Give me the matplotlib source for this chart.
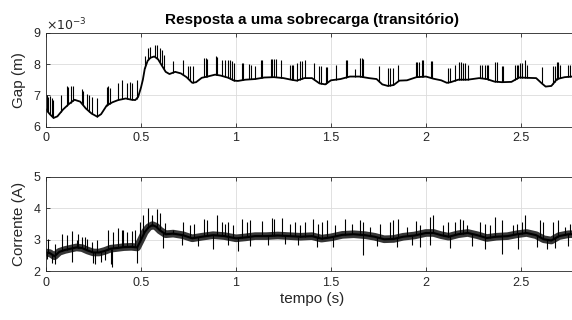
import matplotlib
matplotlib.use('Agg')
import matplotlib.pyplot as plt
import numpy as np

plt.rcParams['font.family'] = ['Liberation Sans', 'DejaVu Sans']

# gap baseline (x 1e-3 m)
gap_t = [0, 0.02, 0.04, 0.06, 0.09, 0.12, 0.15, 0.18, 0.21, 0.24, 0.27, 0.29, 0.32, 0.35, 0.38,
         0.42, 0.45, 0.47, 0.485, 0.5, 0.51, 0.52, 0.535, 0.55, 0.57, 0.59, 0.61, 0.63, 0.65, 0.68,
         0.71, 0.74, 0.77, 0.79, 0.82, 0.85, 0.89, 0.92, 0.96, 0.99, 1.01, 1.05, 1.1, 1.15, 1.2,
         1.25, 1.29, 1.32, 1.36, 1.4, 1.44, 1.47, 1.5, 1.55, 1.6, 1.65, 1.7, 1.74, 1.77, 1.8,
         1.83, 1.86, 1.9, 1.95, 2.0, 2.04, 2.08, 2.11, 2.13, 2.17, 2.22, 2.28, 2.32, 2.36, 2.4,
         2.45, 2.49, 2.53, 2.58, 2.61, 2.63, 2.66, 2.69, 2.73, 2.77, 2.8]
gap_v = [6.55, 6.4, 6.28, 6.33, 6.55, 6.72, 6.86, 6.8, 6.58, 6.42, 6.32, 6.4, 6.68, 6.78, 6.85,
         6.9, 6.86, 6.85, 6.95, 7.25, 7.5, 7.85, 8.1, 8.2, 8.24, 8.15, 7.95, 7.75, 7.68, 7.75,
         7.7, 7.58, 7.4, 7.42, 7.56, 7.6, 7.66, 7.63, 7.56, 7.47, 7.46, 7.5, 7.52, 7.57, 7.58,
         7.55, 7.5, 7.47, 7.55, 7.55, 7.38, 7.35, 7.48, 7.52, 7.6, 7.6, 7.55, 7.52, 7.35, 7.3,
         7.33, 7.47, 7.48, 7.58, 7.6, 7.53, 7.48, 7.4, 7.42, 7.5, 7.5, 7.55, 7.52, 7.44, 7.42,
         7.43, 7.57, 7.56, 7.55, 7.38, 7.28, 7.3, 7.52, 7.58, 7.6, 7.6]

# gap spikes: time and peak (x 1e-3 m)
gap_spk_t = [0.004, 0.012, 0.021, 0.03, 0.039, 0.077, 0.109, 0.118, 0.13, 0.14, 0.188, 0.196,
             0.214, 0.228, 0.24, 0.27, 0.319, 0.328, 0.337, 0.381, 0.398, 0.428, 0.44, 0.451,
             0.477, 0.521, 0.538, 0.548, 0.574, 0.586, 0.598, 0.609, 0.621, 0.67,
             0.723, 0.749, 0.758, 0.775, 0.833, 0.84, 0.847, 0.893, 0.902, 0.928, 0.942, 0.96,
             0.968, 0.981, 0.991, 1.03, 1.039, 1.068, 1.079, 1.1, 1.132, 1.139, 1.184, 1.191,
             1.2, 1.209, 1.237, 1.284, 1.293, 1.302, 1.319, 1.337, 1.346, 1.363,
             1.411, 1.437, 1.446, 1.474, 1.481, 1.526, 1.577, 1.584, 1.626, 1.653, 1.661, 1.67,
             1.754, 1.802, 1.811, 1.825, 1.854, 1.947, 1.954, 1.961, 1.977, 1.982, 2.025, 2.033,
             2.117, 2.126, 2.153, 2.175, 2.183, 2.196, 2.205, 2.223, 2.284, 2.293, 2.311, 2.319,
             2.328, 2.363, 2.372, 2.398, 2.407, 2.468, 2.477, 2.486, 2.495, 2.504, 2.521, 2.533,
             2.609, 2.67, 2.679, 2.688, 2.696, 2.705, 2.749, 2.758]
gap_spk_v = [7.0, 6.95, 6.98, 6.9, 6.85, 7.0, 7.3, 7.28, 7.3, 7.3, 7.2, 7.15,
             7.05, 7.0, 6.95, 6.9, 7.28, 7.3, 7.25, 7.4, 7.5, 7.4, 7.42, 7.38,
             7.5, 8.25, 8.5, 8.55, 8.6, 8.62, 8.5, 8.45, 8.3, 8.1,
             8.14, 7.95, 7.95, 7.93, 8.2, 8.2, 8.15, 8.25, 8.22, 8.14, 8.14, 8.14,
             8.12, 8.09, 8.03, 8.03, 8.03, 8.0, 7.98, 7.95, 8.14, 8.12, 8.17, 8.17,
             8.15, 8.15, 8.14, 7.98, 7.98, 7.98, 8.03, 8.09, 8.09, 8.14,
             8.03, 7.93, 7.93, 7.9, 7.9, 7.96, 8.14, 8.14, 7.85, 8.19, 8.2, 8.17,
             7.93, 7.87, 7.87, 7.87, 7.96, 8.06, 8.06, 8.06, 8.14, 8.14, 8.09, 8.09,
             7.87, 7.87, 7.98, 8.06, 8.06, 8.03, 8.03, 7.98, 7.96, 7.96, 7.96, 7.96,
             7.96, 8.06, 8.06, 7.93, 7.93, 7.98, 7.98, 7.98, 8.03, 8.03, 8.14, 7.96,
             7.9, 7.93, 7.93, 8.06, 8.06, 7.96, 7.96, 7.96]

# current mean (A)
cur_t = [0, 0.02, 0.045, 0.07, 0.1, 0.13, 0.16, 0.19, 0.22, 0.25, 0.28, 0.31, 0.34, 0.37, 0.41,
         0.45, 0.48, 0.5, 0.52, 0.54, 0.56, 0.58, 0.6, 0.63, 0.67, 0.72, 0.77, 0.82, 0.88, 0.94,
         1.0, 1.05, 1.1, 1.16, 1.22, 1.28, 1.34, 1.4, 1.45, 1.5, 1.56, 1.62, 1.68, 1.73, 1.78,
         1.83, 1.88, 1.94, 2.0, 2.04, 2.08, 2.12, 2.17, 2.22, 2.27, 2.32, 2.37, 2.43, 2.48, 2.53,
         2.58, 2.62, 2.66, 2.7, 2.75, 2.8]
cur_v = [2.6, 2.58, 2.48, 2.62, 2.68, 2.72, 2.76, 2.74, 2.66, 2.6, 2.6, 2.65, 2.72, 2.74, 2.77,
         2.78, 2.76, 3.0, 3.25, 3.4, 3.47, 3.42, 3.3, 3.18, 3.2, 3.15, 3.05, 3.1, 3.15, 3.12,
         3.05, 3.08, 3.12, 3.12, 3.14, 3.12, 3.1, 3.12, 3.04, 3.08, 3.16, 3.18, 3.15, 3.1, 3.02,
         3.03, 3.1, 3.14, 3.22, 3.22, 3.15, 3.1, 3.18, 3.22, 3.15, 3.06, 3.1, 3.12, 3.18, 3.22,
         3.15, 3.02, 2.98, 3.12, 3.18, 3.18]

# current spikes up
cur_up_t = [0.012, 0.047, 0.082, 0.109, 0.135, 0.161, 0.17, 0.188, 0.205, 0.214, 0.24, 0.267,
            0.328, 0.355, 0.381, 0.4, 0.407, 0.428, 0.451, 0.47, 0.495, 0.512, 0.538, 0.556,
            0.582, 0.6, 0.626, 0.67,
            0.723, 0.758, 0.781, 0.833, 0.845, 0.898, 0.924, 0.942, 0.96, 0.986, 1.03, 1.056,
            1.074, 1.135, 1.188, 1.202, 1.24, 1.284, 1.311, 1.337, 1.363, 1.407,
            1.433, 1.451, 1.477, 1.521, 1.574, 1.609, 1.653, 1.67, 1.705, 1.758, 1.811, 1.828,
            1.854, 1.898, 1.947, 1.968, 2.021, 2.035, 2.091,
            2.117, 2.153, 2.179, 2.193, 2.214, 2.284, 2.311, 2.337, 2.363, 2.398, 2.46, 2.477,
            2.504, 2.521, 2.6, 2.617, 2.67, 2.696, 2.732, 2.758]
cur_up_v = [3.04, 2.88, 3.2, 3.14, 3.27, 2.99, 3.2, 3.09, 3.1, 3.04, 2.93, 2.99,
            3.33, 3.25, 3.38, 3.3, 3.3, 3.25, 3.27, 3.3, 3.57, 3.78, 4.01, 3.78,
            3.97, 3.87, 3.55, 3.33,
            3.57, 3.46, 3.51, 3.67, 3.62, 3.78, 3.57, 3.51, 3.57, 3.48, 3.65, 3.57,
            3.62, 3.59, 3.7, 3.67, 3.7, 3.51, 3.57, 3.46, 3.57, 3.67,
            3.51, 3.57, 3.62, 3.46, 3.65, 3.51, 3.62, 3.57, 3.41, 3.51, 3.57, 3.62,
            3.67, 3.41, 3.59, 3.46, 3.73, 3.78, 3.46,
            3.57, 3.57, 3.67, 3.62, 3.46, 3.57, 3.51, 3.46, 3.73, 3.62, 3.48, 3.51,
            3.57, 3.78, 3.62, 3.57, 3.57, 3.62, 3.41, 3.51]

# current spikes down
cur_dn_t = [0.004, 0.03, 0.047, 0.135, 0.25, 0.258, 0.29, 0.311, 0.34, 0.346, 0.477, 0.617,
            0.714, 0.802, 0.881, 0.96, 1.012, 1.074, 1.17, 1.258, 1.328, 1.425, 1.512, 1.67,
            1.74, 1.846, 1.925, 1.968, 2.021, 2.126, 2.24, 2.311, 2.398, 2.486, 2.582, 2.635,
            2.679, 2.749]
cur_dn_v = [2.4, 2.26, 2.24, 2.3, 2.28, 2.24, 2.3, 2.35, 2.22, 2.13, 2.26, 2.75,
            2.83, 2.82, 2.7, 2.85, 2.64, 2.82, 2.85, 2.88, 2.83, 2.77, 2.77, 2.53,
            2.8, 2.77, 2.83, 2.77, 2.83, 2.74, 2.8, 2.72, 2.56, 2.7, 2.77, 2.7,
            2.74, 2.8]

x_ticks = [0, 0.5, 1, 1.5, 2, 2.5]
x_labels = ['0', '0.5', '1', '1.5', '2', '2.5']

fig = plt.figure(figsize=(5.72, 3.2), dpi=100)
ax1 = fig.add_axes([0.0804, 0.604, 0.930, 0.294])
ax2 = fig.add_axes([0.0804, 0.152, 0.930, 0.295])

ax1.plot(gap_t, gap_v, color='black', lw=1.3)
ax1.vlines(gap_spk_t, np.interp(gap_spk_t, gap_t, gap_v), gap_spk_v, color='black', lw=0.8)

# dense noise band drawn as a thick line
ax2.plot(cur_t, cur_v, color='#1a1a1a', lw=5.5, alpha=0.88)
ax2.plot(cur_t, cur_v, color='black', lw=1.5)
base_up = np.interp(cur_up_t, cur_t, cur_v)
base_dn = np.interp(cur_dn_t, cur_t, cur_v)
ax2.vlines(cur_up_t, base_up, cur_up_v, color='black', lw=0.8)
ax2.vlines(cur_dn_t, cur_dn_v, base_dn, color='black', lw=0.8)

for ax in [ax1, ax2]:
    ax.set_xlim(0, 2.8)
    ax.set_xticks(x_ticks)
    ax.set_xticklabels(x_labels)
    ax.grid(True, color='#dcdcdc', lw=0.6)
    ax.set_axisbelow(True)
    ax.tick_params(direction='in', length=3, width=0.6, color='#262626', top=True,
                   labelsize=9, labelcolor='#262626', pad=4)
    for s in ax.spines.values():
        s.set_color('#262626')
        s.set_linewidth(0.6)
    ax.spines['right'].set_visible(False)

ax1.set_ylim(6, 9)
ax1.set_yticks([6, 7, 8, 9])
ax1.set_ylabel('Gap (m)', fontsize=11, color='#262626', labelpad=5)
ax1.text(0.0, 0.995, r'$\times10^{-3}$', transform=ax1.transAxes, fontsize=9,
         color='#262626', va='bottom', ha='left')
ax1.set_title('Resposta a uma sobrecarga (transitório)', fontsize=11, fontweight='bold', pad=6)

ax2.set_ylim(2, 5)
ax2.set_yticks([2, 3, 4, 5])
ax2.set_ylabel('Corrente (A)', fontsize=11, color='#262626', labelpad=5)
ax2.set_xlabel('tempo (s)', fontsize=11, color='#262626', labelpad=2)

fig.savefig('out.png', dpi=100)
